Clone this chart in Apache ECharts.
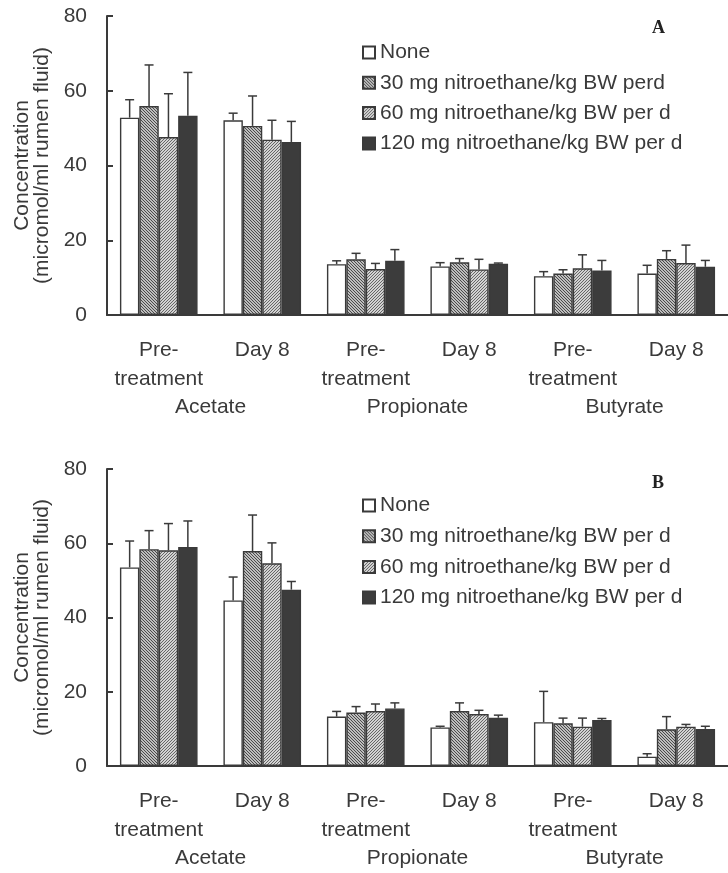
<!DOCTYPE html>
<html>
<head>
<meta charset="utf-8">
<script src="https://cdn.jsdelivr.net/npm/echarts@6/dist/echarts.min.js"></script>
<style>
  html, body { margin: 0; padding: 0; background: #fff; }
  #chart { width: 728px; height: 873px; }
</style>
</head>
<body>
<div id="chart"></div>
<script>
// Sampling times (x categories) and the acid each pair of times belongs to
const timepoints = ['Pre-\ntreatment', 'Day 8', 'Pre-\ntreatment', 'Day 8', 'Pre-\ntreatment', 'Day 8'];
const acids = ['Acetate', 'Propionate', 'Butyrate'];
const yTicks = [0, 20, 40, 60, 80];

// Treatment names as printed in each panel's key
const namesA = ['None', '30 mg nitroethane/kg BW perd', '60 mg nitroethane/kg BW per d', '120 mg nitroethane/kg BW per d'];
const namesB = ['None', '30 mg nitroethane/kg BW per d', '60 mg nitroethane/kg BW per d', '120 mg nitroethane/kg BW per d'];

// Panel A: means and SD (micromol/ml rumen fluid)
const noneA      = [52.8, 52.1, 13.6, 13.0, 10.4, 11.1];
const noneA_sd   = [4.8, 1.9, 0.9, 1.0, 1.2, 2.2];
const ne30A      = [55.9, 50.6, 14.9, 14.1, 11.1, 15.0];
const ne30A_sd   = [11.0, 8.0, 1.6, 1.0, 1.0, 2.2];
const ne60A      = [47.6, 46.9, 12.3, 12.2, 12.5, 13.9];
const ne60A_sd   = [11.6, 5.2, 1.5, 2.7, 3.6, 4.8];
const ne120A     = [53.3, 46.3, 14.5, 13.7, 11.9, 12.9];
const ne120A_sd  = [11.6, 5.5, 3.0, 0.2, 2.7, 1.7];

// Panel B: means and SD
const noneB      = [53.5, 44.6, 13.3, 10.4, 11.8, 2.5];
const noneB_sd   = [7.1, 6.3, 1.4, 0.3, 8.3, 0.8];
const ne30B      = [58.4, 57.9, 14.4, 14.8, 11.5, 9.9];
const ne30B_sd   = [5.0, 9.7, 1.6, 2.2, 1.4, 3.4];
const ne60B      = [58.1, 54.6, 14.8, 14.0, 10.6, 10.6];
const ne60B_sd   = [7.2, 5.5, 1.9, 1.0, 2.3, 0.6];
const ne120B     = [59.0, 47.5, 15.5, 13.0, 12.4, 10.0];
const ne120B_sd  = [7.0, 2.2, 1.5, 0.7, 0.4, 0.7];

const INK = '#3a3a3a';
const FONT = '"Liberation Sans", Arial, sans-serif';
const CAT_GAP = 0.25;

// Diagonal hatch fills
function hatch(bg, line, dir, step, width) {
  const c = document.createElement('canvas');
  c.width = step; c.height = step;
  const g = c.getContext('2d');
  g.fillStyle = bg; g.fillRect(0, 0, step, step);
  g.strokeStyle = line; g.lineWidth = width;
  g.beginPath();
  for (let o = -step; o <= step; o += step) {
    if (dir > 0) { g.moveTo(o, step); g.lineTo(o + step, 0); }
    else { g.moveTo(o, 0); g.lineTo(o + step, step); }
  }
  g.stroke();
  return { image: c, repeat: 'repeat' };
}

const fills = [
  '#ffffff',
  hatch('#bdbdbd', '#4a4a4a', -1, 3, 1),
  hatch('#d2d2d2', '#666666', 1, 3, 1),
  '#3c3c3c'
];

function barSeries(names, means, xi, yi) {
  return means.map((vals, k) => ({
    type: 'bar',
    name: names[k],
    xAxisIndex: xi, yAxisIndex: yi,
    data: vals,
    barGap: '0%',
    barCategoryGap: (CAT_GAP * 100) + '%',
    itemStyle: { color: fills[k], borderColor: INK, borderWidth: 1.4 },
    emphasis: { disabled: true },
    z: 2
  }));
}

function errorSeries(means, sds, xi, yi) {
  const rows = [];
  means.forEach((vals, k) => vals.forEach((m, i) => rows.push([i, m, sds[k][i], k])));
  return {
    type: 'custom',
    xAxisIndex: xi, yAxisIndex: yi,
    data: rows,
    encode: { x: 0, y: 1 },
    z: 3,
    silent: true,
    renderItem: function (params, api) {
      const cat = api.value(0), mean = api.value(1), sd = api.value(2), k = api.value(3);
      const band = api.size([1, 0])[0];
      const barW = band * (1 - CAT_GAP) / means.length;
      const base = api.coord([cat, mean]);
      const top = api.coord([cat, mean + sd]);
      const x = base[0] + (k - (means.length - 1) / 2) * barW;
      const half = 4.5;
      const st = { stroke: INK, lineWidth: 1.5 };
      return {
        type: 'group',
        children: [
          { type: 'line', shape: { x1: x, y1: base[1], x2: x, y2: top[1] }, style: st },
          { type: 'line', shape: { x1: x - half, y1: top[1], x2: x + half, y2: top[1] }, style: st }
        ]
      };
    }
  };
}

function timeAxis(gi) {
  return {
    gridIndex: gi, type: 'category', data: timepoints,
    axisLine: { lineStyle: { color: INK, width: 2 } },
    axisTick: { inside: true, length: 6, lineStyle: { color: INK, width: 2 } },
    axisLabel: { interval: 0, color: INK, fontSize: 21, fontFamily: FONT, margin: 21, lineHeight: 29 }
  };
}
function acidAxis(gi) {
  return {
    gridIndex: gi, type: 'category', data: acids, position: 'bottom', offset: 80,
    axisLine: { show: false }, axisTick: { show: false },
    axisLabel: { interval: 0, color: INK, fontSize: 21, fontFamily: FONT, margin: 2 }
  };
}
function valueAxis(gi) {
  return {
    gridIndex: gi, type: 'value',
    min: yTicks[0], max: yTicks[yTicks.length - 1], interval: yTicks[1] - yTicks[0],
    splitLine: { show: false },
    axisLine: { show: true, lineStyle: { color: INK, width: 2 } },
    axisTick: { show: true, inside: true, length: 6, lineStyle: { color: INK, width: 2 } },
    axisLabel: { color: INK, fontSize: 21, fontFamily: FONT, margin: 20 },
    name: 'Concentration\n(micromol/ml rumen fluid)',
    nameLocation: 'middle', nameGap: 52,
    nameTextStyle: { color: INK, fontSize: 21, fontFamily: FONT, lineHeight: 20 }
  };
}
function keyLegend(names, top, gap) {
  return {
    data: names, orient: 'vertical', left: 362, top: top, padding: 0,
    itemGap: gap, itemWidth: 12, itemHeight: 12, icon: 'rect',
    selectedMode: false,
    textStyle: { color: INK, fontSize: 21, fontFamily: FONT, lineHeight: 20 }
  };
}
function panelTitle(text, top) {
  return {
    text: text, left: 652, top: top, padding: 0,
    textStyle: { color: '#222', fontSize: 18, fontWeight: 'bold', fontFamily: '"Liberation Serif", "Times New Roman", serif' }
  };
}

const meansA = [noneA, ne30A, ne60A, ne120A];
const sdsA = [noneA_sd, ne30A_sd, ne60A_sd, ne120A_sd];
const meansB = [noneB, ne30B, ne60B, ne120B];
const sdsB = [noneB_sd, ne30B_sd, ne60B_sd, ne120B_sd];

const chart = echarts.init(document.getElementById('chart'), null, { renderer: 'canvas' });
chart.setOption({
  backgroundColor: '#ffffff',
  animation: false,
  title: [panelTitle('A', 19), panelTitle('B', 474)],
  legend: [keyLegend(namesA, 42, 9.3), keyLegend(namesB, 495, 9.7)],
  grid: [
    { left: 107, top: 16, width: 621, height: 299 },
    { left: 107, top: 469, width: 621, height: 297 }
  ],
  xAxis: [timeAxis(0), acidAxis(0), timeAxis(1), acidAxis(1)],
  yAxis: [valueAxis(0), valueAxis(1)],
  series: [
    ...barSeries(namesA, meansA, 0, 0),
    errorSeries(meansA, sdsA, 0, 0),
    ...barSeries(namesB, meansB, 2, 1),
    errorSeries(meansB, sdsB, 2, 1)
  ]
});
</script>
</body>
</html>
